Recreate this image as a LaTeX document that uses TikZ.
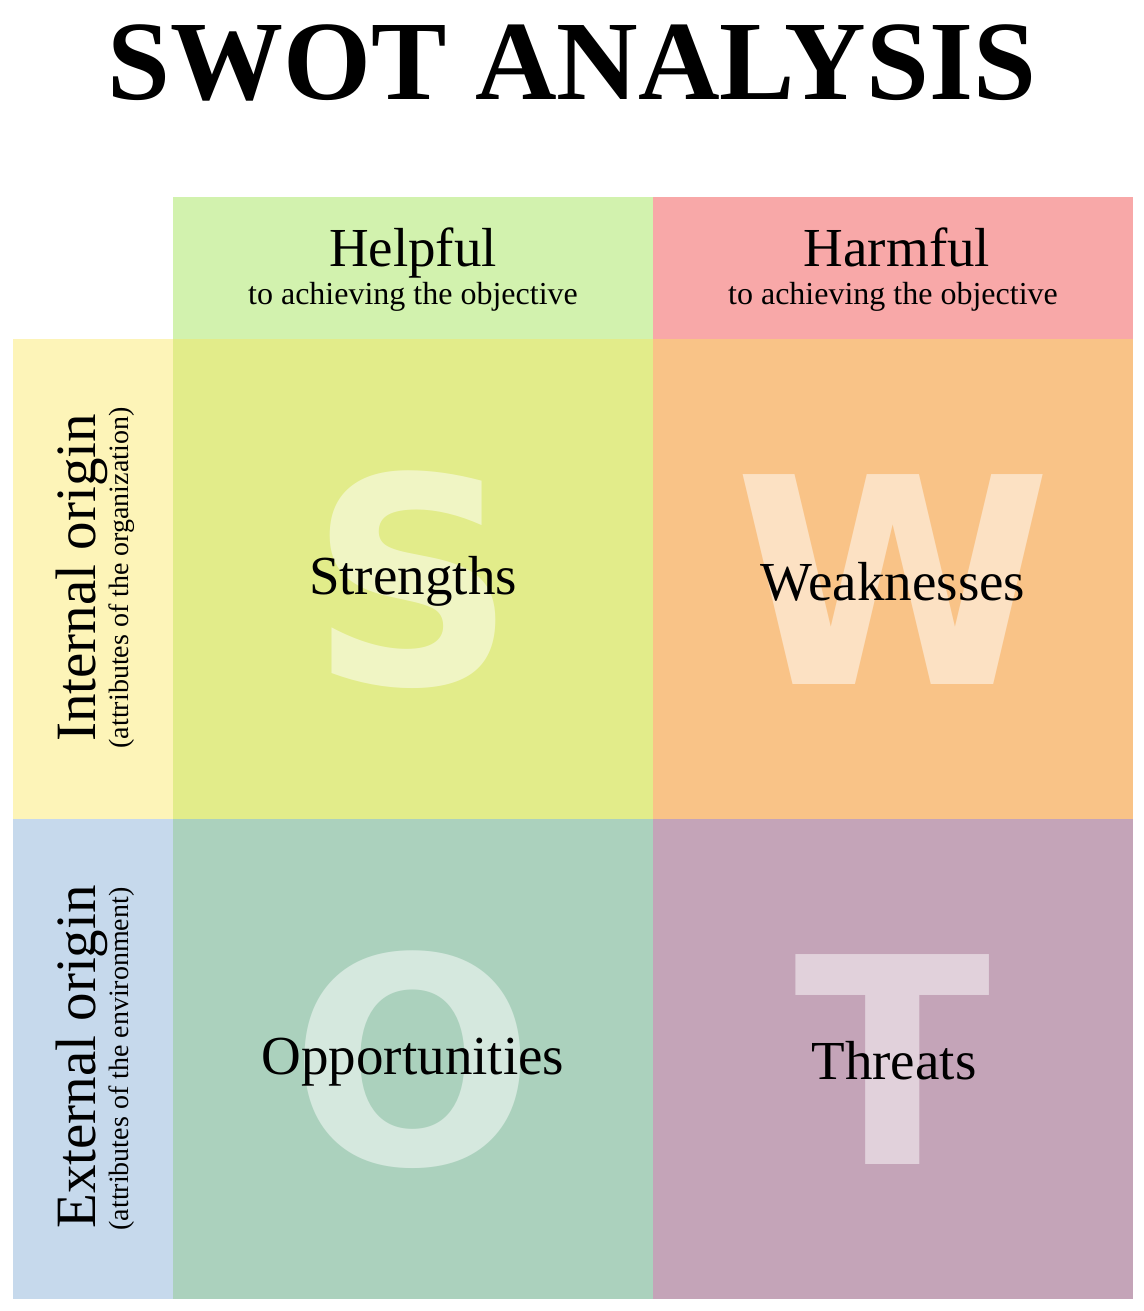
\documentclass[tikz,border=0pt]{standalone}
\usepackage{fontspec}
\setmainfont{Liberation Serif}
\newfontfamily\bigsans{DejaVu Sans}
\definecolor{helpC}{HTML}{D2F2AE}
\definecolor{harmC}{HTML}{F8A8A8}
\definecolor{intC}{HTML}{FDF4B8}
\definecolor{extC}{HTML}{C6D9EC}
\definecolor{sC}{HTML}{E2EC8A}
\definecolor{wC}{HTML}{F9C387}
\definecolor{oC}{HTML}{ABD1BD}
\definecolor{tC}{HTML}{C4A4B8}
\begin{document}
\begin{tikzpicture}[x=1pt,y=-1pt,
  lbl/.style={inner sep=0pt, anchor=base, font=\fontsize{55}{55}\selectfont},
  subl/.style={inner sep=0pt, anchor=base, font=\fontsize{32}{32}\selectfont},
  sidel/.style={inner sep=0pt, anchor=base, rotate=90, font=\fontsize{57}{57}\selectfont},
  sidesub/.style={inner sep=0pt, anchor=base, rotate=90, font=\fontsize{28}{28}\selectfont},
  bigletter/.style={inner sep=0pt, anchor=base, text=white, text opacity=0.5,
     font=\bigsans\bfseries\fontsize{288}{288}\selectfont}]
\useasboundingbox (0,0) rectangle (1143,1311);
% cells
\fill[helpC] (173,197) rectangle (653,339);
\fill[harmC] (653,197) rectangle (1133,339);
\fill[intC] (13,339) rectangle (173,819);
\fill[extC] (13,819) rectangle (173,1299);
\fill[sC] (173,339) rectangle (653,819);
\fill[wC] (653,339) rectangle (1133,819);
\fill[oC] (173,819) rectangle (653,1299);
\fill[tC] (653,819) rectangle (1133,1299);
% title
\node[inner sep=0pt, anchor=base, font=\bfseries\fontsize{113}{113}\selectfont] (title) at (572,100) {SWOT ANALYSIS};
% headers
\node[lbl] (helpful) at (413,266) {Helpful};
\node[subl] (helpfulsub) at (413,304) {to achieving the objective};
\node[lbl] (harmful) at (897,266) {Harmful};
\node[subl] (harmfulsub) at (893,304) {to achieving the objective};
% side labels
\node[sidel] (internal) at (95,578) {Internal origin};
\node[sidesub] (internalsub) at (128,578) {(attributes of the organization)};
\node[sidel] (external) at (95,1057) {External origin};
\node[sidesub] (externalsub) at (128,1059) {(attributes of the environment)};
% big letters
\node[bigletter] (bigS) at (413,684) {S};
\node[bigletter] (bigW) at (893,684) {W};
\node[bigletter] (bigO) at (413,1164) {O};
\node[bigletter] (bigT) at (893,1164) {T};
% quadrant labels
\node[lbl] (strengths) at (413,594) {Strengths};
\node[lbl] (weaknesses) at (893,600) {Weaknesses};
\node[lbl] (opportunities) at (413,1074) {Opportunities};
\node[lbl] (threats) at (894,1079) {Threats};
\end{tikzpicture}
\end{document}
